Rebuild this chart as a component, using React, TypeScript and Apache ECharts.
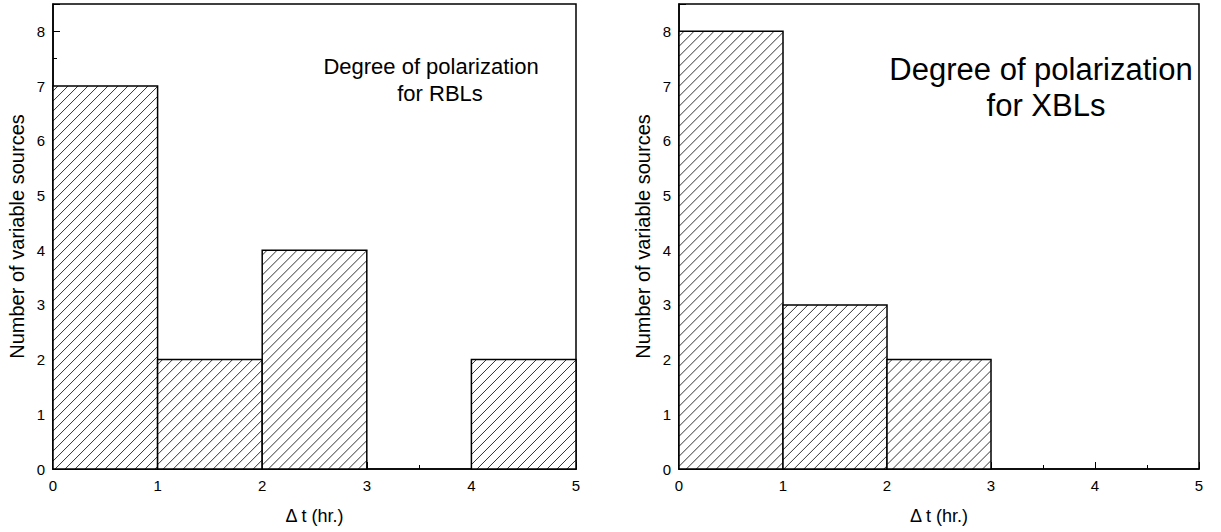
import React, { useEffect, useRef } from "react";
import * as echarts from "echarts";

const binStarts = [0, 1, 2, 3, 4];
const binWidth = 1;
const rblCounts = [7, 2, 4, 0, 2];
const xblCounts = [8, 3, 2, 0, 0];
const yTicks = [0, 1, 2, 3, 4, 5, 6, 7, 8];
const yMax = 8.5;
const xAxisTitle = "\u0394 t (hr.)";
const yAxisTitle = "Number of variable sources";
const rblTitle = ["Degree of polarization", "for RBLs"];
const xblTitle = ["Degree of polarization", "for XBLs"];

const FONT = "Liberation Sans";

function buildData(counts: number[]) {
  return binStarts
    .map((s, i) => [s, s + binWidth, counts[i]])
    .filter((d) => d[2] > 0);
}

function renderHatchBar(params: any, api: any) {
  const p0 = api.coord([api.value(0), 0]);
  const p1 = api.coord([api.value(1), api.value(2)]);
  const x0 = p0[0];
  const x1 = p1[0];
  const yb = p0[1];
  const yt = p1[1];
  const children: any[] = [];
  children.push({
    type: "rect",
    shape: { x: x0, y: yt, width: x1 - x0, height: yb - yt },
    style: { fill: "#fff", stroke: "none" },
  });
  const step = 10;
  for (let c = x0 + yt + step / 2; c < x1 + yb; c += step) {
    const xa = Math.max(x0, c - yb);
    const xb = Math.min(x1, c - yt);
    if (xb <= xa) continue;
    children.push({
      type: "line",
      shape: { x1: xa, y1: c - xa, x2: xb, y2: c - xb },
      style: { stroke: "#000", lineWidth: 0.8 },
    });
  }
  children.push({
    type: "rect",
    shape: { x: x0, y: yt, width: x1 - x0, height: yb - yt },
    style: { fill: "none", stroke: "#000", lineWidth: 1.5 },
  });
  return { type: "group", children };
}

function xAxisCfg(gridIndex: number) {
  return {
    type: "value",
    gridIndex,
    min: 0,
    max: 5,
    interval: 1,
    name: xAxisTitle,
    nameLocation: "middle",
    nameGap: 38,
    nameTextStyle: { fontFamily: FONT, fontSize: 18, color: "#000" },
    axisLine: { show: true, onZero: false, lineStyle: { color: "#000", width: 1.5 } },
    axisTick: { show: true, inside: true, length: 7, lineStyle: { color: "#000", width: 1 } },
    minorTick: { show: true, splitNumber: 2, length: 4, lineStyle: { color: "#000", width: 1 } },
    axisLabel: { fontFamily: FONT, fontSize: 15, color: "#000", margin: 9 },
    splitLine: { show: false },
  };
}

function yAxisCfg(gridIndex: number) {
  return {
    type: "value",
    gridIndex,
    min: 0,
    max: yMax,
    interval: 1,
    name: yAxisTitle,
    nameLocation: "middle",
    nameGap: 26,
    nameRotate: 90,
    nameTextStyle: { fontFamily: FONT, fontSize: 20, color: "#000" },
    axisLine: { show: true, onZero: false, lineStyle: { color: "#000", width: 1.5 } },
    axisTick: { show: true, inside: true, length: 7, lineStyle: { color: "#000", width: 1 } },
    minorTick: { show: true, splitNumber: 2, length: 4, lineStyle: { color: "#000", width: 1 } },
    axisLabel: {
      fontFamily: FONT,
      fontSize: 15,
      color: "#000",
      margin: 8,
      formatter: (v: number) => (yTicks.includes(v) ? String(v) : ""),
    },
    splitLine: { show: false },
  };
}

function titleText(text: string, x: number, y: number, size: number) {
  return {
    type: "text",
    x,
    y,
    style: {
      text,
      fontFamily: FONT,
      fontSize: size,
      fill: "#000",
      align: "center",
      verticalAlign: "middle",
    },
  };
}

export default function App() {
  const ref = useRef<HTMLDivElement>(null);
  useEffect(() => {
    document.body.style.margin = "0";
    const chart = echarts.init(ref.current!, null, { renderer: "svg" });
    chart.setOption({
      animation: false,
      backgroundColor: "#fff",
      textStyle: { fontFamily: FONT, color: "#000" },
      grid: [
        { left: 53, top: 4, width: 523, height: 465, show: true, borderColor: "#000", borderWidth: 1.5, backgroundColor: "transparent" },
        { left: 679, top: 4, width: 520, height: 465, show: true, borderColor: "#000", borderWidth: 1.5, backgroundColor: "transparent" },
      ],
      xAxis: [xAxisCfg(0), xAxisCfg(1)],
      yAxis: [yAxisCfg(0), yAxisCfg(1)],
      series: [
        {
          type: "custom",
          xAxisIndex: 0,
          yAxisIndex: 0,
          renderItem: renderHatchBar,
          encode: { x: [0, 1], y: 2 },
          data: buildData(rblCounts),
          z: 1,
        },
        {
          type: "custom",
          xAxisIndex: 1,
          yAxisIndex: 1,
          renderItem: renderHatchBar,
          encode: { x: [0, 1], y: 2 },
          data: buildData(xblCounts),
          z: 1,
        },
      ],
      graphic: [
        titleText(rblTitle[0], 431, 66, 22),
        titleText(rblTitle[1], 440, 93, 22),
        titleText(xblTitle[0], 1041, 69, 31),
        titleText(xblTitle[1], 1046, 105, 31),
      ],
    });
    return () => chart.dispose();
  }, []);
  return <div ref={ref} style={{ width: 1221, height: 532 }} />;
}
